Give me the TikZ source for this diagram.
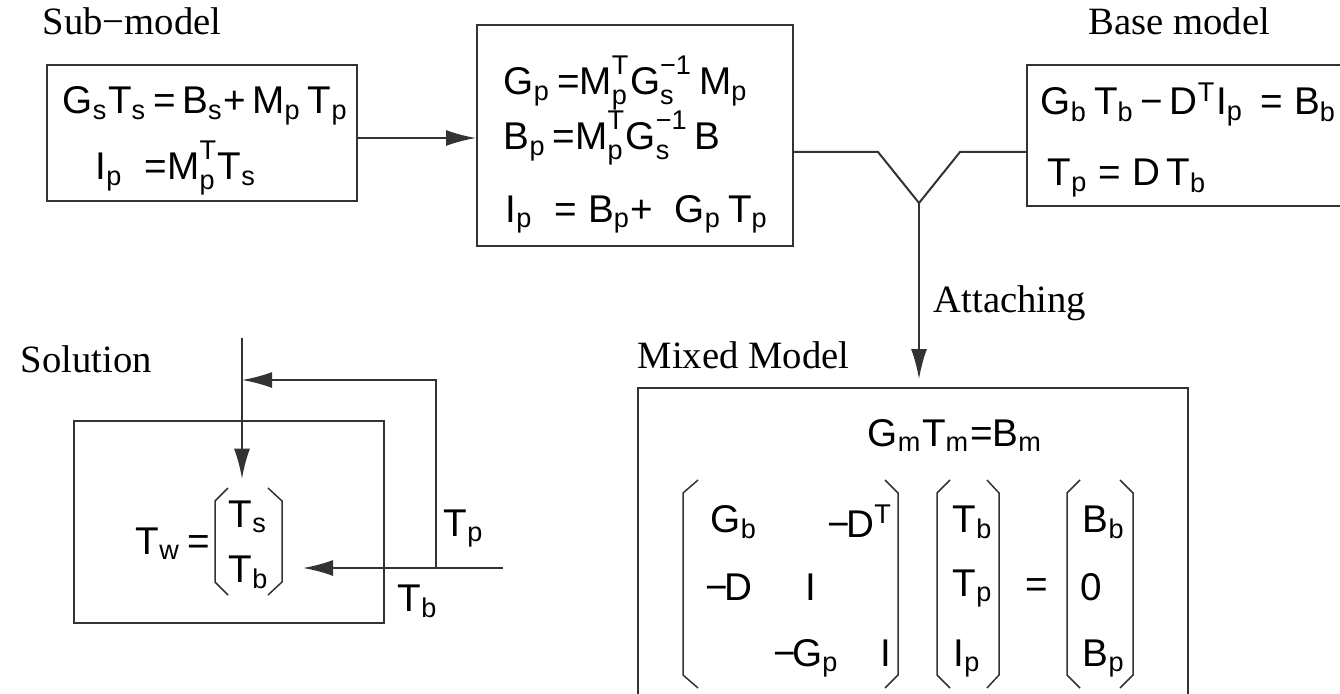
\documentclass[tikz,border=0pt]{standalone}
\usepackage{amsmath}
\usepackage{fontspec}
\setmainfont{Liberation Serif}
\setsansfont{Liberation Sans}
\usepackage{tikz}
\usetikzlibrary{arrows.meta,positioning}

\newcommand{\lo}[1]{\ensuremath{_\text{#1}}}
\newcommand{\hi}[1]{\ensuremath{^\text{#1}}}
\newcommand{\lohi}[2]{\ensuremath{^{\text{\raisebox{0.25em}{#2}}}_\text{#1}}}

\begin{document}
\begin{tikzpicture}[
            box/.style={draw=black!80, line width=0.2mm, inner sep=0pt, anchor=north west},
            wire/.style={draw=black!80, line width=0.2mm},
            arrowline/.style={wire, -{Latex[length=3mm,width=1.6mm]}},
            paren/.style={draw=black!80, line width=0.15mm},
            title/.style={font=\rmfamily\fontsize{11}{13}\selectfont, inner sep=0pt, anchor=base west},
            eq/.style={font=\sffamily\fontsize{11}{13}\selectfont, inner sep=0pt, anchor=base west}
        ]
            \clip (0,0) rectangle (13.40,-6.93);

            % Boxes
            \node[box, minimum width=3.10cm, minimum height=1.36cm] (subbox) at (0.46,-0.64) {};
            \node[box, minimum width=3.16cm, minimum height=2.21cm] (midbox) at (4.76,-0.24) {};
            \node[box, minimum width=3.60cm, minimum height=1.41cm] (basebox) at (10.26,-0.64) {};
            \node[box, minimum width=5.50cm, minimum height=3.40cm] (mixbox) at (6.37,-3.87) {};
            \node[box, minimum width=3.10cm, minimum height=2.02cm] (solbox) at (0.73,-4.20) {};

            % Titles
            \node[title] (subtitle) at (0.42,-0.35) {Sub−model};
            \node[title] (basetitle) at (10.88,-0.35) {Base model};
            \node[title] (attach) at (9.33,-3.12) {Attaching};
            \node[title] (soltitle) at (0.20,-3.72) {Solution};
            \node[title] (mixtitle) at (6.37,-3.68) {Mixed Model};

            % Sub-model equations
            \node[eq] (s1) at (0.62,-1.14) {G\lo{s}T\lo{s}\,=\,B\lo{s}+\,M\lo{p}\,T\lo{p}};
            \node[eq] (s2) at (0.95,-1.80) {I\lo{p}\ \ =M\lohi{p}{T}T\lo{s}};

            % Reduced equations
            \node[eq] (m1) at (5.03,-0.95) {G\lo{p}\,=M\lohi{p}{T}G\lohi{s}{−1}\,M\lo{p}};
            \node[eq] (m2) at (5.03,-1.50) {B\lo{p}\,=M\lohi{p}{T}G\lohi{s}{−1}\,B};
            \node[eq] (m3) at (5.05,-2.22) {I\lo{p}\ \ = B\lo{p}+\ \ G\lo{p}\,T\lo{p}};

            % Base model equations
            \node[eq] (b1) at (10.40,-1.15) {G\lo{b}\,T\lo{b}\,−\,D\hi{T}I\lo{p}\ \,= B\lo{b}};
            \node[eq] (b2) at (10.47,-1.86) {T\lo{p}\ = D\,T\lo{b}};

            % Mixed model
            \node[eq] (mm) at (8.67,-4.46) {G\lo{m}T\lo{m}=B\lo{m}};
            \node[eq] (a11) at (7.10,-5.32) {G\lo{b}};
            \node[eq] (a13) at (8.27,-5.37) {−\kern-0.1em D\hi{T}};
            \node[eq] (a21) at (7.05,-6.00) {−\kern-0.1em D};
            \node[eq] (a22) at (8.05,-6.00) {I};
            \node[eq] (a32) at (7.73,-6.66) {−\kern-0.1em G\lo{p}};
            \node[eq] (a33) at (8.80,-6.66) {I};
            \node[eq] (t1) at (9.52,-5.32) {T\lo{b}};
            \node[eq] (t2) at (9.52,-5.96) {T\lo{p}};
            \node[eq] (t3) at (9.53,-6.66) {I\lo{p}};
            \node[eq, anchor=center] (eqs) at (10.37,-5.88) {=};
            \node[eq] (r1) at (10.82,-5.32) {B\lo{b}};
            \node[eq] (r2) at (10.80,-6.00) {0};
            \node[eq] (r3) at (10.82,-6.66) {B\lo{p}};

            % Solution
            \node[eq] (tw) at (1.35,-5.54) {T\lo{w}\,=};
            \node[eq] (ts) at (2.28,-5.27) {T\lo{s}};
            \node[eq] (tb) at (2.28,-5.82) {T\lo{b}};
            \node[eq] (lp) at (4.43,-5.36) {T\lo{p}};
            \node[eq] (lb) at (3.97,-6.11) {T\lo{b}};

            % Parentheses
            \foreach \xv/\xe/\yt/\yb in {6.83/6.98/4.80/6.88, 9.37/9.50/4.80/6.88, 10.67/10.80/4.80/6.88, 2.15/2.28/4.88/5.95}
                \draw[paren] (\xe,-\yt) -- (\xv,-\yt-0.13) -- (\xv,-\yb+0.13) -- (\xe,-\yb);
            \foreach \xv/\xe/\yt/\yb in {8.98/8.85/4.80/6.88, 9.99/9.87/4.80/6.88, 11.33/11.20/4.80/6.88, 2.82/2.68/4.88/5.95}
                \draw[paren] (\xe,-\yt) -- (\xv,-\yt-0.13) -- (\xv,-\yb+0.13) -- (\xe,-\yb);

            % Connectors
            \coordinate (feed) at (3.56,-1.38);
            \draw[arrowline] (feed) -- (feed -| midbox.west);
            \coordinate (yl) at (8.78,-1.52);
            \coordinate (yc) at (9.19,-2.03);
            \coordinate (yr) at (9.60,-1.52);
            \draw[wire] (midbox.east |- yl) -- (yl) -- (yc) -- (yr) -- (basebox.west |- yr);
            \draw[arrowline, shorten >=0.08cm] (yc) -- (yc |- mixbox.north);

            % Solution feed
            \coordinate (ain) at (2.42,-3.38);
            \coordinate (pc) at (4.36,-3.80);
            \coordinate (bc) at (4.36,-5.68);
            \coordinate (bin) at (5.03,-5.68);
            \coordinate (btip) at (3.03,-5.68);
            \draw[arrowline, shorten >=0.21cm] (ain) -- (ain |- ts.north);
            \draw[arrowline] (bc) -- (pc) -- (ain |- pc);
            \draw[arrowline] (bin) -- (btip);
        \end{tikzpicture}
\end{document}
